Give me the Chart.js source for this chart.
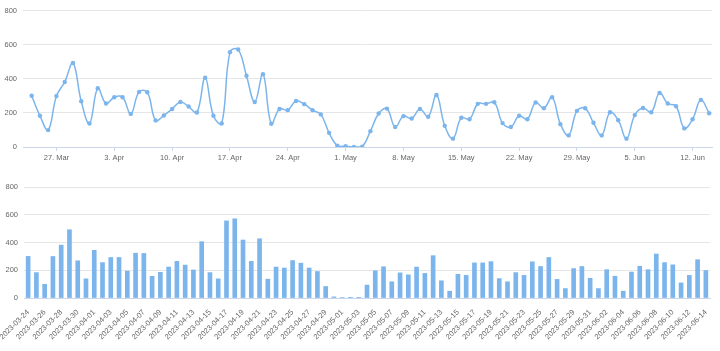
<!DOCTYPE html>
<html>
<head>
<meta charset="utf-8">
<script src="https://cdn.jsdelivr.net/npm/chart.js@4.4.0/dist/chart.umd.min.js"></script>
<style>
    html, body { margin: 0; padding: 0; background: #ffffff; }
    #top { position: absolute; left: 0; top: 0; width: 720px; height: 167px; }
    #bottom { position: absolute; left: 0; top: 167px; width: 720px; height: 184px; }
</style>
</head>
<body>
<div id="top"><canvas id="line-chart"></canvas></div>
<div id="bottom"><canvas id="bar-chart"></canvas></div>
<script>
// daily values, 2023-03-24 .. 2023-06-14
const startDay = Date.UTC(2023, 2, 24);
const values = [
    300, 183, 99, 299, 381, 492, 268, 138, 344, 255,
    292, 292, 194, 323, 321, 156, 185, 223, 264, 237,
    202, 406, 183, 138, 556, 571, 418, 264, 427, 136,
    223, 216, 270, 251, 216, 191, 83, 8, 4, 1,
    2, 93, 196, 225, 117, 181, 167, 223, 177, 305,
    124, 49, 171, 163, 253, 253, 262, 140, 117, 183,
    163, 261, 227, 292, 134, 68, 212, 227, 142, 68,
    204, 157, 49, 187, 229, 204, 317, 255, 239, 109,
    163, 276, 198
];
const yTicks = [0, 200, 400, 600, 800];
const monthNames = ['Jan', 'Feb', 'Mar', 'Apr', 'May', 'Jun', 'Jul', 'Aug', 'Sep', 'Oct', 'Nov', 'Dec'];

const dates = values.map((v, i) => new Date(startDay + i * 86400000));
const isoLabels = dates.map(d => d.toISOString().slice(0, 10));
const shortLabel = i => {
    const d = dates[i];
    return d.getUTCDate() + '. ' + monthNames[d.getUTCMonth()];
};
// week ticks on Mondays
const weekTicks = dates.map((d, i) => d.getUTCDay() === 1 ? i : null).filter(i => i !== null);

const BLUE = '#7cb5ec';
const FONT = { family: '"Liberation Sans", Arial, sans-serif', size: 7.5 };
const TEXT = '#666666';

function yScale(width) {
    return {
        min: 0,
        max: 800,
        afterBuildTicks: s => { s.ticks = yTicks.map(v => ({ value: v })); },
        ticks: { font: FONT, color: TEXT, padding: 6 },
        grid: { color: '#e6e6e6', drawTicks: false },
        border: { display: false },
        afterFit: s => { s.width = width; }
    };
}

new Chart(document.getElementById('line-chart'), {
    type: 'line',
    data: {
        datasets: [{
            data: values.map((v, i) => ({ x: i, y: v })),
            borderColor: BLUE,
            backgroundColor: BLUE,
            borderWidth: 1.5,
            pointRadius: 2.2,
            pointBorderWidth: 0,
            tension: 0.4,
            fill: false
        }]
    },
    options: {
        responsive: true,
        maintainAspectRatio: false,
        animation: false,
        layout: { padding: { top: 10, right: 8, bottom: 0, left: 0 } },
        plugins: { legend: { display: false }, tooltip: { enabled: false } },
        scales: {
            x: {
                type: 'linear',
                min: -1.05,
                max: 82.35,
                afterBuildTicks: s => { s.ticks = weekTicks.map(v => ({ value: v })); },
                ticks: { callback: v => shortLabel(v), font: FONT, color: TEXT, padding: 2, maxRotation: 0, autoSkip: false },
                grid: { drawOnChartArea: false, drawTicks: true, tickLength: 4, color: '#ccd6eb' },
                border: { color: '#ccd6eb' },
                afterFit: s => { s.height = 20; s.paddingLeft = 0; s.paddingRight = 0; }
            },
            y: yScale(23)
        }
    }
});

new Chart(document.getElementById('bar-chart'), {
    type: 'bar',
    data: {
        labels: isoLabels,
        datasets: [{
            data: values,
            backgroundColor: BLUE,
            barThickness: 4
        }]
    },
    options: {
        responsive: true,
        maintainAspectRatio: false,
        animation: false,
        layout: { padding: { top: 20, right: 10, bottom: 0, left: 0 } },
        plugins: { legend: { display: false }, tooltip: { enabled: false } },
        scales: {
            x: {
                ticks: {
                    callback: (v, i) => i % 2 === 0 ? isoLabels[i] : '',
                    font: FONT, color: TEXT, padding: 2,
                    minRotation: 45, maxRotation: 45, autoSkip: false
                },
                grid: { display: false },
                border: { color: '#ccd6eb' },
                afterFit: s => { s.height = 53; s.paddingLeft = 0; s.paddingRight = 0; }
            },
            y: yScale(24)
        }
    }
});
</script>
</body>
</html>
